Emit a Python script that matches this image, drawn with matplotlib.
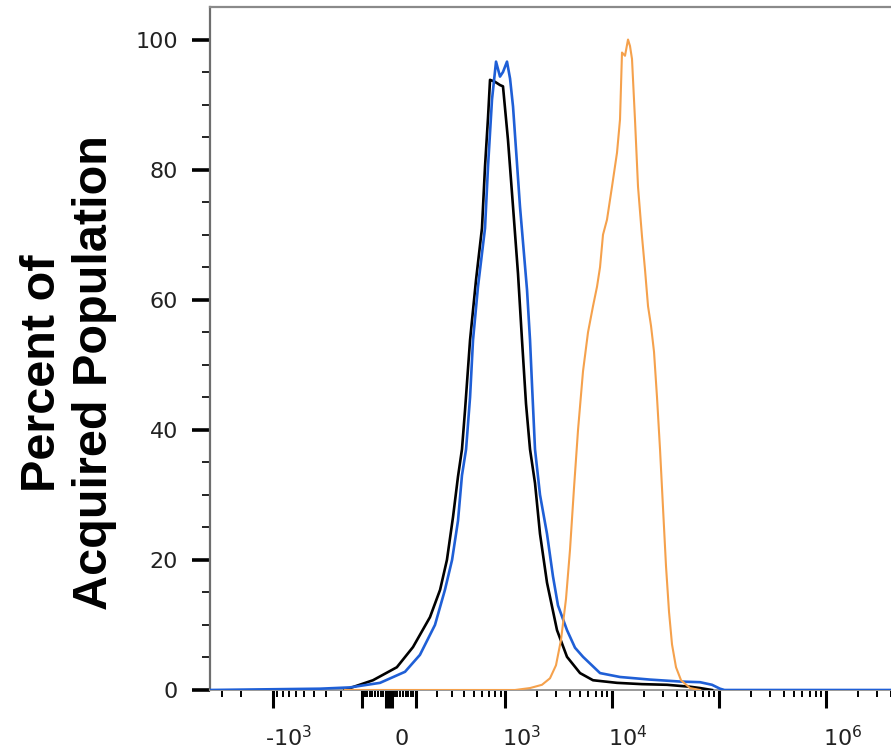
import numpy as np
import matplotlib
matplotlib.use("Agg")
import matplotlib.pyplot as plt
from matplotlib.transforms import ScaledTranslation
from matplotlib.ticker import NullFormatter

# fluorescence intensity (x) and percent of population (y)
black_x = [-180, -155, -58, 28, 89, 165, 220, 263, 306, 345, 379, 407, 457, 523, 598, 640,
           684, 715, 798, 890, 950, 1059, 1182, 1317, 1436, 1566, 1708, 1902, 2119, 2464,
           3057, 3790, 5018, 6631, 11113, 19030, 32570, 53430, 66260, 85730]
black_y = [0, 0.3, 1.5, 3.5, 6.6, 11.2, 15.4, 20, 26.6, 32.8, 37, 43, 53.8, 63, 71, 80.5,
           88, 93.8, 93.5, 93.0, 92.8, 84.6, 74.3, 64, 53.8, 44, 37, 31.8, 24, 16.5,
           9.2, 5.1, 2.6, 1.5, 1.1, 0.9, 0.8, 0.5, 0.3, 0]

blue_x = [-4000, -345, -155, -32, 58, 118, 191, 250, 299, 345, 379, 417, 457, 489, 547,
          640, 684, 747, 816, 890, 950, 1037, 1108, 1182, 1375, 1601, 1708, 1782, 1902,
          2119, 2464, 2800, 3122, 3790, 4503, 5349, 7714, 11855, 22600, 43080, 66260,
          85730, 101800, 112000, 5000000]
blue_y = [0, 0.2, 0.4, 1.1, 2.8, 5.4, 10, 15.4, 20, 26, 33, 37, 45, 53.8, 62,
          71, 80.5, 90.8, 96.6, 94.3, 95, 96.6, 94, 89.7, 74.3, 61.5, 53.8, 47, 37,
          30, 24, 17.5, 13, 9.2, 6.5, 5.1, 2.6, 2.0, 1.6, 1.3, 1.2,
          0.8, 0.2, 0, 0]

orange_x = [-180, 1234, 1708, 2211, 2627, 2990, 3331, 3709, 4041, 4404, 4806, 5349, 5958,
            6631, 7229, 7714, 8224, 8960, 9983, 11113, 11855, 12375, 13200, 14083, 14700,
            15345, 16360, 17460, 19030, 20300, 21660, 23090, 24630, 26270, 28030, 29890,
            31890, 34020, 36280, 39530, 44040, 53430, 66260]
orange_y = [0, 0, 0.3, 0.8, 1.8, 3.8, 7.7, 14, 21.5, 31, 40, 49, 55,
            59, 62, 65, 70, 72.3, 77.4, 82.6, 87.7, 98, 97.5, 100, 99,
            97, 87.7, 77.4, 69.7, 64.6, 59, 56, 52, 45, 37, 28,
            19, 12, 7, 3.5, 1.5, 0.3, 0]

# axis ticks (biexponential-like axis)
major_ticks = [-1000, -100, -10, 0, 10, 100, 1000, 10000, 100000, 1000000]
major_labels = [r'-$10^{3}$', '', '', '0', '', '', r'$10^{3}$', r'$10^{4}$', '', r'$10^{6}$']
minor_ticks = [-3000, -2000]
for d in [10, 100, 1000, 10000, 100000]:
    for m in range(2, 10):
        minor_ticks.append(m * d)
        if d <= 100:
            minor_ticks.append(-m * d)
minor_ticks += [2000000, 3000000, 4000000, 5000000]
y_major = [0, 20, 40, 60, 80, 100]
y_minor = [5, 10, 15, 25, 30, 35, 45, 50, 55, 65, 70, 75, 85, 90, 95]

fig = plt.figure(figsize=(8.91, 7.55), dpi=100)
ax = fig.add_axes([210 / 891, 65 / 755, 695 / 891, 683 / 755])

ax.plot(black_x, black_y, color='black', lw=1.9, zorder=3)
ax.plot(blue_x, blue_y, color='#1f5fd6', lw=1.9, zorder=4)
ax.plot(orange_x, orange_y, color='#f5a14c', lw=1.5, zorder=5)

ax.set_xscale('asinh', linear_width=165)

ax.set_xticks(major_ticks, major_labels)
ax.set_xticks(minor_ticks, minor=True)
ax.xaxis.set_minor_formatter(NullFormatter())
ax.set_yticks(y_major)
ax.set_yticks(y_minor, minor=True)

# limits after the ticks, set_xticks can widen the view
ax.set_xlim(-3873, 5.44e6)
ax.set_ylim(0, 105)

ax.tick_params(axis='x', which='major', direction='out', length=13, width=2.2,
               color='black', labelsize=16, labelcolor='#222222', pad=12)
ax.tick_params(axis='x', which='minor', direction='out', length=5, width=1.4, color='black')
ax.tick_params(axis='y', which='major', direction='out', length=13, width=2.6,
               color='black', labelsize=16, labelcolor='#222222', pad=10)
ax.tick_params(axis='y', which='minor', direction='out', length=6, width=1.4, color='#222222')

# x labels sit a bit right of their ticks in the original
off = ScaledTranslation(0.16, 0, fig.dpi_scale_trans)
off_zero = ScaledTranslation(0.13, -0.04, fig.dpi_scale_trans)
for lab in ax.get_xticklabels():
    if lab.get_text() == '0':
        lab.set_transform(lab.get_transform() + off_zero)
    else:
        lab.set_transform(lab.get_transform() + off)

ax.spines['right'].set_visible(False)
ax.spines['left'].set_color('#6e6e6e')
ax.spines['left'].set_linewidth(1.6)
ax.spines['top'].set_color('#8a8a8a')
ax.spines['top'].set_linewidth(1.6)
ax.spines['bottom'].set_color('#999999')
ax.spines['bottom'].set_linewidth(1.4)

fig.text(69 / 891, 1 - 373 / 755, 'Percent of\nAcquired Population', rotation=90,
         ha='center', va='center', fontsize=35, fontweight='bold',
         family='Liberation Sans', multialignment='center')

fig.savefig('out.png', dpi=100)
